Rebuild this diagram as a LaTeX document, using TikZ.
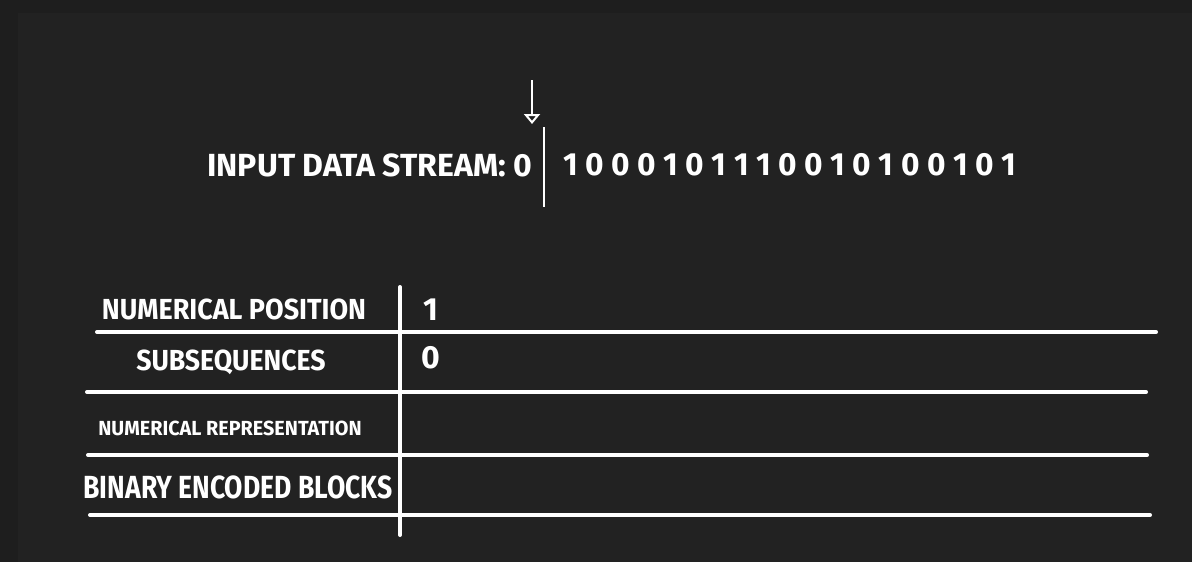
\documentclass[tikz,border=0pt]{standalone}
\usepackage{fontspec}
\newfontfamily\sketchfont{Fira Sans}
\usetikzlibrary{arrows.meta}
\definecolor{board}{HTML}{222222}
\definecolor{boardedge}{HTML}{1E1E1E}
\tikzset{>=latex}

\begin{document}
\begin{tikzpicture}[x=0.5pt, y=-0.5pt,
    rule/.style={draw=white, line width=2pt, line cap=round},
    lab/.style={text=white, inner sep=0pt, font=\sketchfont\bfseries}]
    \fill[board](0, 0)rectangle(1192, 562);
    \fill[boardedge](0, 0)rectangle(1192, 13);
    \fill[boardedge](0, 0)rectangle(18, 562);
    % input stream with the read pointer
    \node[lab, anchor=west, font=\sketchfont\bfseries\fontsize{16}{16}\selectfont](stream)at(207, 165){INPUT DATA STREAM: 0};
    \node[lab, anchor=west, font=\sketchfont\bfseries\fontsize{16}{16}\selectfont](bits)at(563, 165){\scalebox{0.99}[1]{1 0 0 0 1 0 1 1 1 0 0 1 0 1 0 0 1 0 1}};
    \coordinate(cuttop)at(544, 127);
    \coordinate(cutbot)at(544, 207);
    \draw[white, line width=1pt](cuttop)--(cutbot);
    \coordinate(ptr)at(532, 80);
    \coordinate(ptrtip)at(532, 124);
    \draw[white, line width=1pt, -{Triangle[open, width=8pt, length=5pt]}](ptr)--(ptrtip);
    % table
    \coordinate(a1)at(97, 332);  \coordinate(b1)at(1156, 332);
    \coordinate(a2)at(87, 392);  \coordinate(b2)at(1146, 392);
    \coordinate(a3)at(88, 455);  \coordinate(b3)at(1147, 455);
    \coordinate(a4)at(90, 515);  \coordinate(b4)at(1150, 515);
    \coordinate(vtop)at(400, 287);
    \coordinate(vbot)at(400, 535);
    \draw[rule](a1)--(b1);
    \draw[rule](a2)--(b2);
    \draw[rule](a3)--(b3);
    \draw[rule](a4)--(b4);
    \draw[rule](vtop)--(vbot);
    \node[lab, font=\sketchfont\bfseries\fontsize{14.5}{14.5}\selectfont](pos)at(234, 309){\scalebox{0.93}[1]{NUMERICAL POSITION}};
    \node[lab, font=\sketchfont\bfseries\fontsize{14.5}{14.5}\selectfont](subs)at(231, 362){\scalebox{0.92}[1]{SUBSEQUENCES}};
    \node[lab, font=\sketchfont\bfseries\fontsize{10.2}{10.2}\selectfont](repr)at(230, 428){\scalebox{0.97}[1]{NUMERICAL REPRESENTATION}};
    \node[lab, font=\sketchfont\bfseries\fontsize{16}{16}\selectfont](blocks)at(238, 487){\scalebox{0.83}[1]{BINARY ENCODED BLOCKS}};
    \node[lab, font=\sketchfont\bfseries\fontsize{16}{16}\selectfont](pos1)at(431, 310){1};
    \node[lab, font=\sketchfont\bfseries\fontsize{16}{16}\selectfont](sub1)at(431, 358){0};
\end{tikzpicture}
\end{document}
